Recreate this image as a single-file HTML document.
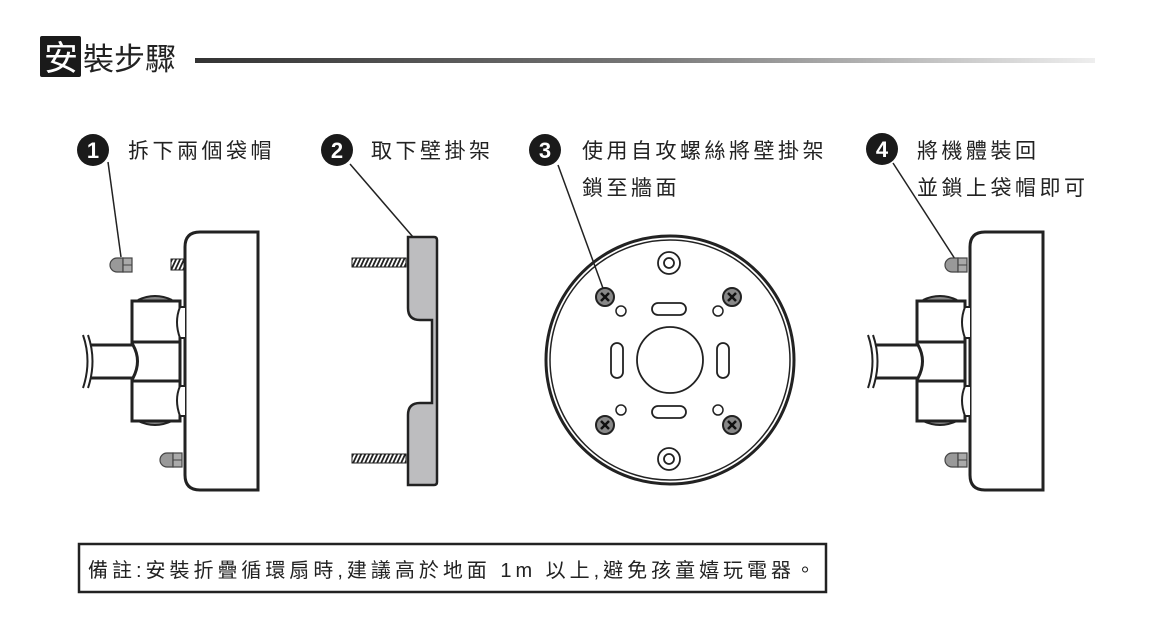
<!DOCTYPE html>
<html><head><meta charset="utf-8"><style>
html,body{margin:0;padding:0;background:#fff;}
body{width:1157px;height:634px;overflow:hidden;position:relative;font-family:"Liberation Sans","Noto Sans CJK TC",sans-serif;}
svg{position:absolute;left:0;top:0;}
text{font-family:"Liberation Sans","Noto Sans CJK TC",sans-serif;fill:#222;}
</style></head><body>
<svg width="1157" height="634" viewBox="0 0 1157 634">
<defs>
<linearGradient id="g" x1="0" x2="1" y1="0" y2="0"><stop offset="0" stop-color="#333"/><stop offset="0.5" stop-color="#777"/><stop offset="1" stop-color="#eee"/></linearGradient>
<pattern id="thr" width="4" height="8" patternUnits="userSpaceOnUse" patternTransform="skewX(-25)"><rect width="4" height="8" fill="#fff"/><rect width="2" height="8" fill="#222"/></pattern>
<g id="nut"><path d="M-2,-7 L-2,7 L-8,7 A7,7 0 0 1 -8,-7 Z" fill="#999" stroke="#444" stroke-width="1.2"/><rect x="-2" y="-7" width="9" height="14" fill="#aaa" stroke="#444" stroke-width="1.2"/><line x1="-2" y1="0" x2="7" y2="0" stroke="#444"/></g>
<g id="dev" fill="#fff" stroke="#222" stroke-width="3">
<path d="M200,232 L258,232 L258,490 L200,490 Q185,490 185,475 L185,247 Q185,232 200,232 Z"/>
<path d="M138,300 Q155,292 172,300" fill="#888" stroke-width="2"/>
<path d="M138,421 Q155,429 172,421" fill="#888" stroke-width="2"/>
<rect x="132" y="301" width="48" height="41"/>
<rect x="132" y="342" width="48" height="39"/>
<rect x="132" y="381" width="48" height="40"/>
<path d="M185,307 L180,307 Q174,322 180,338 L185,338" stroke-width="2"/>
<path d="M185,386 L180,386 Q174,400 180,416 L185,416" stroke-width="2"/>
<path d="M91,345 L133,345 Q142,361 133,378 L91,378"/>
<path d="M83,335 Q92,361 83,388 M88,335 Q97,361 88,388" stroke-width="2" fill="none"/>
</g>
</defs>
<!-- header -->
<rect x="40" y="36" width="41" height="41" fill="#1a1a1a" rx="2"/>
<text x="44" y="70" font-size="34" style="fill:#fff">安</text>
<text x="83" y="70" font-size="31">裝步驟</text>
<rect x="195" y="58" width="900" height="5" fill="url(#g)"/>
<!-- step labels -->
<g font-size="21">
<circle cx="93" cy="150" r="16" fill="#1a1a1a"/><text x="93" y="158" font-size="22" font-weight="bold" text-anchor="middle" style="fill:#fff">1</text>
<text x="128" y="158" letter-spacing="3.5">拆下兩個袋帽</text>
<circle cx="337" cy="150" r="16" fill="#1a1a1a"/><text x="337" y="158" font-size="22" font-weight="bold" text-anchor="middle" style="fill:#fff">2</text>
<text x="371" y="158" letter-spacing="3.5">取下壁掛架</text>
<circle cx="545" cy="150" r="16" fill="#1a1a1a"/><text x="545" y="158" font-size="22" font-weight="bold" text-anchor="middle" style="fill:#fff">3</text>
<text x="582" y="158" letter-spacing="3.5">使用自攻螺絲將壁掛架</text>
<text x="582" y="195" letter-spacing="3.5">鎖至牆面</text>
<circle cx="882" cy="149" r="16" fill="#1a1a1a"/><text x="882" y="157" font-size="22" font-weight="bold" text-anchor="middle" style="fill:#fff">4</text>
<text x="917" y="158" letter-spacing="3.5">將機體裝回</text>
<text x="917" y="195" letter-spacing="3.5">並鎖上袋帽即可</text>
</g>
<g stroke="#222" stroke-width="1.5">
<line x1="108" y1="162" x2="121" y2="257"/>
<line x1="350" y1="164" x2="413" y2="237"/>
<line x1="558" y1="165" x2="604" y2="291"/>
<line x1="893" y1="163" x2="955" y2="259"/>
</g>
<use href="#dev"/>
<use href="#nut" transform="translate(125,265)"/>
<rect x="171" y="259" width="13" height="11" fill="url(#thr)" stroke="#222" stroke-width="1"/>
<use href="#nut" transform="translate(175,460)"/>
<use href="#dev" transform="translate(785,0)"/>
<use href="#nut" transform="translate(960,265)"/>
<use href="#nut" transform="translate(960,460)"/>
<rect x="352" y="258" width="54" height="9" fill="url(#thr)" stroke="#222" stroke-width="1"/>
<rect x="352" y="454" width="54" height="9" fill="url(#thr)" stroke="#222" stroke-width="1"/>
<path d="M408,237 L434,237 Q437,237 437,240 L437,482 Q437,485 434,485 L408,485 L408,415 Q408,403 420,403 L432,403 L432,320 L420,320 Q408,320 408,308 Z" fill="#bdbdbf" stroke="#222" stroke-width="2.5"/>
<g fill="none" stroke="#222">
<circle cx="670" cy="360" r="124" stroke-width="3"/>
<circle cx="670" cy="360" r="120" stroke-width="1.5"/>
<circle cx="670" cy="360" r="33" stroke-width="1.8"/>
<circle cx="669" cy="263" r="11" stroke-width="1.8"/><circle cx="669" cy="263" r="5" stroke-width="1.8"/>
<circle cx="669" cy="459" r="11" stroke-width="1.8"/><circle cx="669" cy="459" r="5" stroke-width="1.8"/>
<rect x="652" y="303" width="34" height="12" rx="6" stroke-width="1.8"/>
<rect x="652" y="406" width="34" height="12" rx="6" stroke-width="1.8"/>
<rect x="611" y="343" width="12" height="35" rx="6" stroke-width="1.8"/>
<rect x="717" y="343" width="12" height="35" rx="6" stroke-width="1.8"/>
<circle cx="621" cy="311" r="5" stroke-width="1.5"/><circle cx="718" cy="311" r="5" stroke-width="1.5"/>
<circle cx="621" cy="410" r="5" stroke-width="1.5"/><circle cx="718" cy="410" r="5" stroke-width="1.5"/>
</g>
<g id="sc"><circle cx="605" cy="297" r="9" fill="#888" stroke="#222" stroke-width="2"/><path d="M601,293 L609,301 M609,293 L601,301" stroke="#111" stroke-width="2.5"/></g>
<use href="#sc" transform="translate(127,0)"/>
<use href="#sc" transform="translate(0,128)"/>
<use href="#sc" transform="translate(127,128)"/>
<rect x="79" y="544" width="747" height="48" fill="none" stroke="#222" stroke-width="2.5"/>
<text x="88" y="577" font-size="20" textLength="727" lengthAdjust="spacing">備註:安裝折疊循環扇時,建議高於地面 1m 以上,避免孩童嬉玩電器。</text>
</svg>
</body></html>
